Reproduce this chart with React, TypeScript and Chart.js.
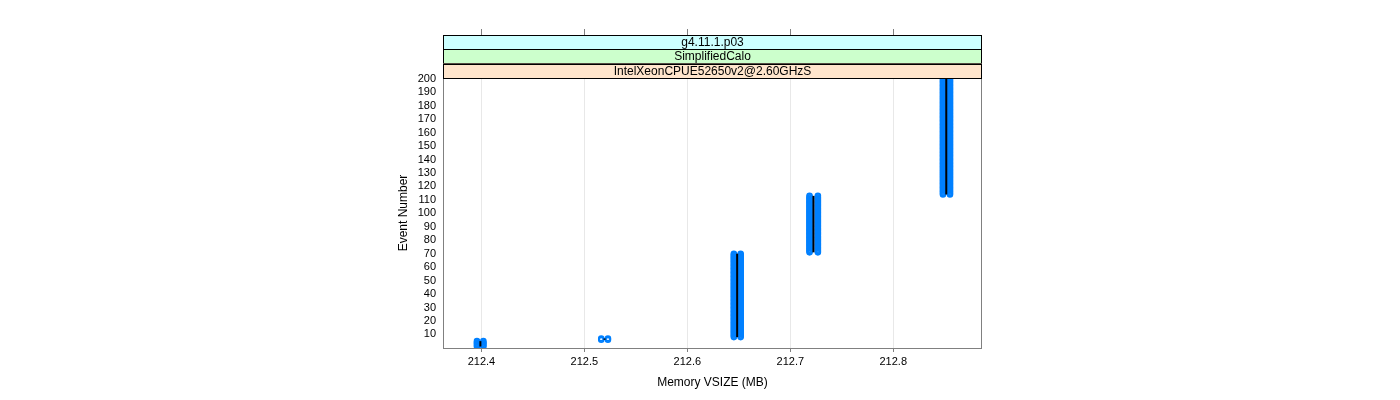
import React, { useEffect, useRef } from 'react';
import { Chart, registerables } from 'chart.js';

Chart.register(...registerables);

// Event ranges (first/last event number) of each memory cluster
const segFirstEvent = [1, 6, 8, 71, 114];
const segLastEvent = [5, 7, 70, 113, 200];
// Memory VSIZE (MB) of the two point columns and the centre line in each cluster
const memLeft = [212.3957, 212.5164, 212.6452, 212.7187, 212.8483];
const memRight = [212.4019, 212.5229, 212.6518, 212.7268, 212.8551];
const memCenter = [212.399, 212.5196, 212.6484, 212.7225, 212.8515];

const xTicks = [212.4, 212.5, 212.6, 212.7, 212.8];
const yTicks = [10, 20, 30, 40, 50, 60, 70, 80, 90, 100, 110, 120, 130, 140, 150, 160, 170, 180, 190, 200];
const stripLabels = ['g4.11.1.p03', 'SimplifiedCalo', 'IntelXeonCPUE52650v2@2.60GHzS'];
const stripColors = ['#ccffff', '#ccffcc', '#ffe5cc'];

const X_MIN = 212.3627;
const X_MAX = 212.8862;
const Y_MIN = -0.1;
const Y_MAX = 200.6;

const FONT = '"Liberation Sans", Arial, Helvetica, sans-serif';
const BLUE = '#0080ff';
const AXIS_GRAY = '#808080';

function buildPoints(mem: number[]) {
  const pts: { x: number; y: number }[] = [];
  for (let s = 0; s < mem.length; s++) {
    for (let e = segFirstEvent[s]; e <= segLastEvent[s]; e++) {
      pts.push({ x: mem[s], y: e });
    }
  }
  return pts;
}

const stripPlugin = {
  id: 'strips',
  afterDatasetsDraw(chart: any) {
    const { ctx, chartArea } = chart;
    const { left, right, top, bottom } = chartArea;
    ctx.save();
    ctx.strokeStyle = AXIS_GRAY;
    ctx.lineWidth = 1;
    ctx.strokeRect(left + 0.5, top + 0.5, right - left - 1, bottom - top);
    ctx.restore();
  },
  afterDraw(chart: any) {
    const { ctx, chartArea, scales } = chart;
    const { left, right, top } = chartArea;
    const h = 14.33;
    const n = stripLabels.length;
    ctx.save();
    for (let i = 0; i < n; i++) {
      const y0 = top - (n - i) * h;
      ctx.fillStyle = stripColors[i];
      ctx.fillRect(left, y0, right - left, h);
      ctx.strokeStyle = '#000';
      ctx.lineWidth = 1;
      ctx.strokeRect(left + 0.5, Math.round(y0) + 0.5, right - left - 1, Math.round(h));
      ctx.fillStyle = '#000';
      ctx.font = '12px ' + FONT;
      ctx.textAlign = 'center';
      ctx.textBaseline = 'middle';
      ctx.fillText(stripLabels[i], (left + right) / 2, y0 + h / 2 + 0.5);
    }
    const yTop = Math.round(top - n * h);
    ctx.strokeStyle = AXIS_GRAY;
    ctx.lineWidth = 1;
    for (const v of xTicks) {
      const x = Math.round(scales.x.getPixelForValue(v)) + 0.5;
      ctx.beginPath();
      ctx.moveTo(x, yTop - 6);
      ctx.lineTo(x, yTop);
      ctx.stroke();
    }
    ctx.restore();
  },
};

export default function App() {
  const ref = useRef<HTMLCanvasElement>(null);

  useEffect(() => {
    const lineSets = memCenter.map((m, s) => ({
      type: 'scatter' as const,
      data: [
        { x: m, y: segFirstEvent[s] },
        { x: m, y: segLastEvent[s] },
      ],
      showLine: true,
      borderColor: '#000',
      borderWidth: 2,
      pointRadius: 0,
      clip: 0,
      order: 0,
    }));
    const pointStyle = {
      type: 'scatter' as const,
      showLine: false,
      pointStyle: 'circle',
      pointRadius: 2.4,
      pointBorderWidth: 1.8,
      borderColor: BLUE,
      backgroundColor: 'rgba(0,0,0,0)',
      pointBackgroundColor: 'rgba(0,0,0,0)',
      pointBorderColor: BLUE,
      clip: 0,
      order: 1,
    };
    const chart = new Chart(ref.current!, {
      type: 'scatter',
      data: {
        datasets: [
          ...lineSets,
          { ...pointStyle, data: buildPoints(memLeft) },
          { ...pointStyle, data: buildPoints(memRight) },
        ] as any,
      },
      options: {
        responsive: false,
        animation: false,
        devicePixelRatio: 1,
        layout: { padding: { left: 0, top: 78, right: 418, bottom: 0 } },
        plugins: {
          legend: { display: false },
          tooltip: { enabled: false },
        },
        scales: {
          x: {
            type: 'linear',
            position: 'bottom',
            min: X_MIN,
            max: X_MAX,
            afterBuildTicks: (scale: any) => {
              scale.ticks = xTicks.map((v) => ({ value: v }));
            },
            afterFit: (scale: any) => {
              scale.height = 52;
            },
            ticks: {
              color: '#000',
              font: { family: FONT, size: 11 },
              padding: 3,
              maxRotation: 0,
              autoSkip: false,
              callback: (v: any) => Number(v).toFixed(1),
            },
            grid: {
              color: '#e8e8e8',
              tickColor: AXIS_GRAY,
              tickLength: 4,
              drawTicks: true,
              lineWidth: 1,
            },
            border: { display: false },
            title: {
              display: true,
              text: 'Memory VSIZE (MB)',
              color: '#000',
              font: { family: FONT, size: 12 },
              padding: { top: 0, bottom: 10 },
            },
          },
          y: {
            type: 'linear',
            min: Y_MIN,
            max: Y_MAX,
            afterBuildTicks: (scale: any) => {
              scale.ticks = yTicks.map((v) => ({ value: v }));
            },
            afterFit: (scale: any) => {
              scale.width = 443;
            },
            ticks: {
              color: '#000',
              font: { family: FONT, size: 11 },
              padding: 7,
              autoSkip: false,
              callback: (v: any) => String(v),
            },
            grid: { display: false, drawTicks: false },
            border: { display: false },
            title: {
              display: true,
              text: 'Event Number',
              color: '#000',
              font: { family: FONT, size: 12 },
              padding: { top: 396, bottom: 0 },
            },
          },
        },
      },
      plugins: [stripPlugin],
    } as any);
    return () => chart.destroy();
  }, []);

  return (
    <div style={{ position: 'fixed', left: 0, top: 0, width: 1400, height: 400, background: '#fff' }}>
      <canvas ref={ref} width={1400} height={400} style={{ width: 1400, height: 400, display: 'block' }} />
    </div>
  );
}
